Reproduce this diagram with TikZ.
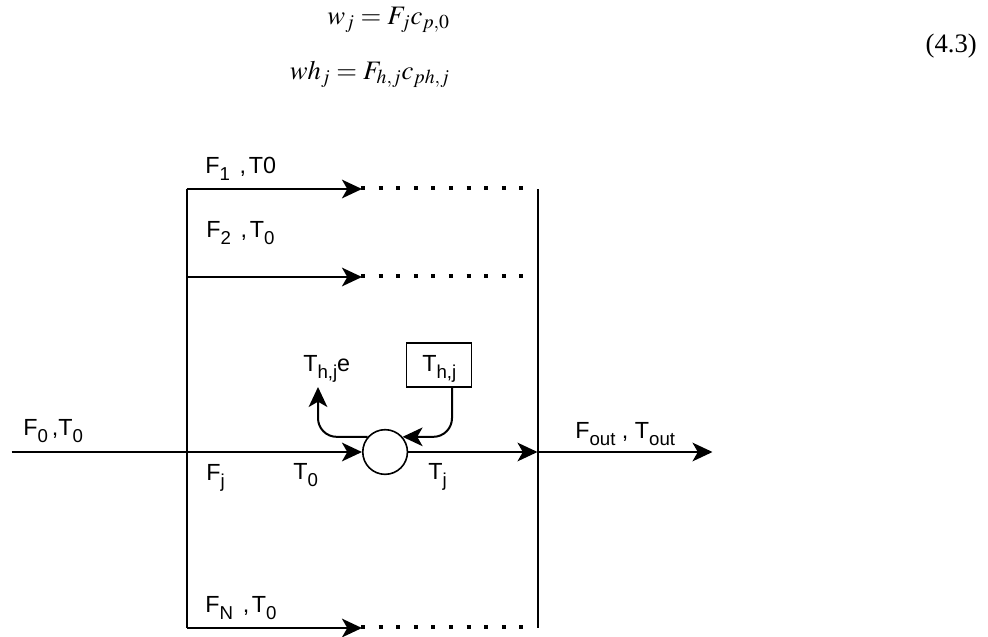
\documentclass[tikz,border=0pt]{standalone}
\usepackage{amsmath}
\usepackage{mathptmx}
\usepackage{fontspec}
\setmainfont{Liberation Sans}
\newfontfamily\eqfont{Liberation Serif}
\usetikzlibrary{arrows.meta,positioning}
\newcommand{\lowsub}[1]{\raisebox{-5.6pt}{\fontsize{14}{16}\selectfont #1}}
\newcommand{\gapcomma}{\kern2.5pt,\kern2pt}
\tikzstyle{flow}=[
	line width=1.5pt,
	-{Stealth[length=15pt,width=14pt,inset=4pt]}]
\tikzstyle{wall}=[
	line width=1.5pt]
\tikzstyle{dots}=[
	line width=3pt,
	dash pattern=on 3pt off 10.2pt]
\tikzstyle{lbl}=[
	font=\fontsize{17.5}{20}\selectfont,
	inner sep=0,
	anchor=base west]
\tikzstyle{eqn}=[
	font=\fontsize{20}{24}\selectfont,
	inner sep=0,
	anchor=base east]
\begin{document}
\begin{tikzpicture}[x=.75pt,y=.75pt]
	\useasboundingbox (0,0) rectangle (988,-636);
	% equations
	\node[eqn] (eq1) at (450,-24) {$w_j = F_j c_{p,0}$};
	\node[eqn] (eq2) at (450,-79) {$wh_j = F_{h,j} c_{ph,j}$};
	\node[eqn] (eqnum) at (977,-52) {\eqfont (4.3)};
	% branches
	\coordinate (f1) at (186.5,-189);
	\coordinate[below=66pt of f1] (f2);
	\coordinate[below=131.25pt of f2] (fj);
	\coordinate[below=132pt of fj] (fN);
	\coordinate[right=131.6pt of f1] (g1);
	\coordinate[right=131.6pt of f2] (g2);
	\coordinate[right=131.6pt of fN] (gN);
	\coordinate[right=263.25pt of f1] (h1);
	\coordinate[right=263.25pt of fj] (hj);
	\coordinate[right=263.25pt of fN] (hN);
	\coordinate[left=131.25pt of fj] (inlet);
	\coordinate[right=131.25pt of hj] (outlet);
	\node[circle,draw,line width=1.2pt,minimum size=33.5pt,inner sep=0] (mix) [right=131.6pt of fj] {};
	\node[draw,line width=1.2pt,minimum width=49pt,minimum height=33pt,inner sep=0] (heat) at (439,-365) {};
	\node[lbl] (heatlbl) at (422,-371) {T\lowsub{h,j}};
	\node[lbl] (hout) at (303,-371) {T\lowsub{h,j}e};
	\coordinate (hend) at (318,-387);
	\coordinate (hin) at (452,-387);
	\draw[wall] (f1) -- (fN);
	\draw[wall] (h1) -- (hN);
	\draw[flow] (f1) -- (g1);
	\draw[flow] (f2) -- (g2);
	\draw[flow] (fN) -- (gN);
	\draw[dots] ([xshift=-.75pt,yshift=.5pt]g1) -- ([xshift=-9.5pt,yshift=.5pt]h1);
	\draw[dots] ([xshift=-.75pt,yshift=.5pt]g2) -- ([xshift=-9.5pt,yshift=.5pt]h1 |- g2);
	\draw[dots] ([xshift=-.75pt,yshift=.5pt]gN) -- ([xshift=-9.5pt,yshift=.5pt]hN);
	\draw[flow] (inlet) -- (mix);
	\draw[flow] (mix) -- (hj);
	\draw[flow] (hj) -- (outlet);
	\draw[flow,rounded corners=14pt] (hin) |- (mix.41);
	\draw[flow,rounded corners=14pt] (mix.139) -| (hend);
	% labels
	\node[lbl] (l1) at (205,-173) {F\lowsub{1} \gapcomma T0};
	\node[lbl] (l2) at (206,-237) {F\lowsub{2} \gapcomma T\lowsub{0}};
	\node[lbl] (lN) at (205,-612) {F\lowsub{N} \gapcomma T\lowsub{0}};
	\node[lbl] (l0) at (23,-435) {F\lowsub{0}\kern3pt,T\lowsub{0}};
	\node[lbl] (lj) at (206,-480) {F\lowsub{j}};
	\node[lbl] (lt0) at (293,-479) {T\lowsub{0}};
	\node[lbl] (ltj) at (428,-479) {T\lowsub{j}};
	\node[lbl] (lout) at (575,-438) {F\lowsub{out} , T\lowsub{out}};
\end{tikzpicture}
\end{document}
